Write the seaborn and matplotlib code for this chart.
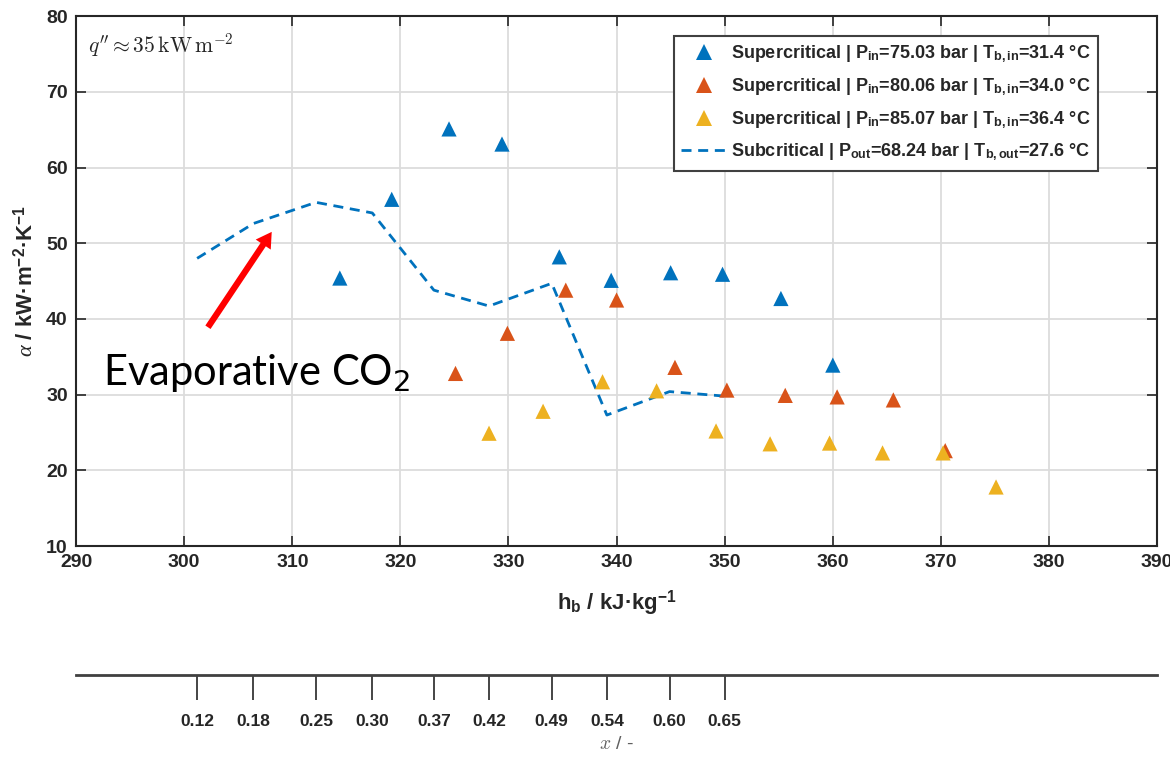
import numpy as np
import pandas as pd
import matplotlib
matplotlib.use("Agg")
import matplotlib.pyplot as plt
from matplotlib.lines import Line2D
import seaborn as sns

# Supercritical runs: bulk enthalpy (kJ/kg) and heat transfer coefficient (kW/m2K)
h_75 = [314.4, 319.2, 324.5, 329.4, 334.7, 339.5, 345.0, 349.8, 355.2, 360.0]
a_75 = [45.4, 55.8, 65.1, 63.1, 48.2, 45.1, 46.1, 45.9, 42.7, 33.9]

h_80 = [325.1, 329.9, 335.3, 340.0, 345.4, 350.2, 355.6, 360.4, 365.6, 370.4]
a_80 = [32.8, 38.1, 43.8, 42.5, 33.6, 30.6, 29.9, 29.7, 29.3, 22.6]

h_85 = [328.2, 333.2, 338.7, 343.7, 349.2, 354.2, 359.7, 364.6, 370.2, 375.1]
a_85 = [24.9, 27.8, 31.7, 30.5, 25.2, 23.5, 23.6, 22.3, 22.3, 17.8]

# Subcritical (evaporating) run and its vapour quality at each station
h_sub = [301.2, 306.4, 312.2, 317.4, 323.1, 328.2, 334.0, 339.1, 344.9, 350.0]
a_sub = [48.0, 52.6, 55.4, 54.0, 43.8, 41.7, 44.7, 27.3, 30.4, 29.8]
x_quality = ["0.12", "0.18", "0.25", "0.30", "0.37", "0.42", "0.49", "0.54", "0.60", "0.65"]

series_labels = [
    r"Supercritical | P$_{\mathrm{in}}$=75.03 bar | T$_{\mathrm{b,in}}$=31.4 °C",
    r"Supercritical | P$_{\mathrm{in}}$=80.06 bar | T$_{\mathrm{b,in}}$=34.0 °C",
    r"Supercritical | P$_{\mathrm{in}}$=85.07 bar | T$_{\mathrm{b,in}}$=36.4 °C",
    r"Subcritical | P$_{\mathrm{out}}$=68.24 bar | T$_{\mathrm{b,out}}$=27.6 °C",
]
colors = ["#0072BD", "#D95319", "#EDB120"]

sns.set_style("ticks")
plt.rcParams["font.family"] = ["Liberation Sans", "DejaVu Sans"]
plt.rcParams["mathtext.fontset"] = "custom"
plt.rcParams["mathtext.rm"] = "Liberation Sans:bold"
plt.rcParams["mathtext.bf"] = "Liberation Sans:bold"
plt.rcParams["mathtext.it"] = "Liberation Serif:italic"

df = pd.DataFrame({
    "h": h_75 + h_80 + h_85,
    "alpha": a_75 + a_80 + a_85,
    "run": ["75"] * len(h_75) + ["80"] * len(h_80) + ["85"] * len(h_85),
})

fig = plt.figure(figsize=(11.7, 7.57), dpi=100)
ax = fig.add_axes([0.065, 0.2787, 0.924, 0.700])

sns.scatterplot(data=df, x="h", y="alpha", hue="run", palette=colors,
                marker="^", s=120, linewidth=0, legend=False, ax=ax, zorder=3)
sns.lineplot(x=h_sub, y=a_sub, color=colors[0], linewidth=2.0, ax=ax, zorder=2)
sub_line = ax.lines[-1]
sub_line.set_linestyle((0, (3.6, 2.4)))

ax.set_xlim(290, 390)
ax.set_ylim(10, 80)
ax.set_xticks(np.arange(290, 391, 10))
ax.set_yticks(np.arange(10, 81, 10))
ax.grid(True, color="#dcdcdc", linewidth=1.3)
ax.set_axisbelow(True)
for sp in ax.spines.values():
    sp.set_visible(True)
    sp.set_color("#262626")
    sp.set_linewidth(1.5)
ax.tick_params(direction="in", length=7, width=1.2, top=True, right=True,
               labelsize=14, colors="#262626", pad=6)
for lab in ax.get_xticklabels() + ax.get_yticklabels():
    lab.set_fontweight("bold")

ax.set_xlabel(r"h$_{\mathrm{b}}$ / kJ·kg$^{\mathrm{-1}}$", fontsize=16,
              fontweight="bold", color="#262626", labelpad=12)
ax.set_ylabel(r"$\alpha$ / kW·m$^{\mathrm{-2}}$·K$^{\mathrm{-1}}$", fontsize=16,
              fontweight="bold", color="#262626", labelpad=6)

ax.text(0.011, 0.945, r"$q'' \approx 35\,\mathrm{kW\,m^{-2}}$", transform=ax.transAxes,
        fontsize=15.5, ha="left", va="center", math_fontfamily="cm", color="#262626")

handles = [Line2D([], [], marker="^", linestyle="none", color=c, markersize=11,
                  markeredgewidth=0) for c in colors]
handles.append(Line2D([], [], color=colors[0], linewidth=2.0, linestyle=(0, (3.6, 2.4))))
leg = ax.legend(handles, series_labels, loc="upper right", bbox_to_anchor=(0.945, 0.962),
                prop={"weight": "bold", "size": 13}, frameon=True, fancybox=False,
                framealpha=1, edgecolor="#404040", handlelength=2.5, handletextpad=0.25,
                labelspacing=0.62, borderpad=0.4, borderaxespad=0)
leg.get_frame().set_linewidth(1.5)
leg.set_zorder(5)

ax.text(292.5, 31.3, "Evaporative CO$_2$", fontsize=30, family=["Lato", "DejaVu Sans"],
        ha="left", va="baseline", color="black", math_fontfamily="dejavusans", zorder=6)
ax.annotate("", xy=(308.1, 51.5), xytext=(302.2, 38.9),
            arrowprops=dict(color="red", width=4.5, headwidth=13, headlength=11, lw=0),
            zorder=6)

# Vapour-quality scale aligned with the subcritical stations
ax2 = fig.add_axes([0.065, 0.108, 0.924, 0.001])
ax2.set_xlim(290, 390)
ax2.patch.set_visible(False)
for side in ["top", "left", "right"]:
    ax2.spines[side].set_visible(False)
ax2.spines["bottom"].set_color("#404040")
ax2.spines["bottom"].set_linewidth(2.0)
ax2.set_yticks([])
ax2.set_xticks(h_sub)
ax2.set_xticklabels(x_quality, fontsize=12.5, fontweight="bold", color="#262626")
ax2.tick_params(axis="x", direction="out", length=18, width=1.2, colors="#262626", pad=10)
ax2.set_xlabel(r"$x$ / -", fontsize=14, color="#606060", math_fontfamily="cm", labelpad=5)

fig.savefig("out.png", dpi=100)
